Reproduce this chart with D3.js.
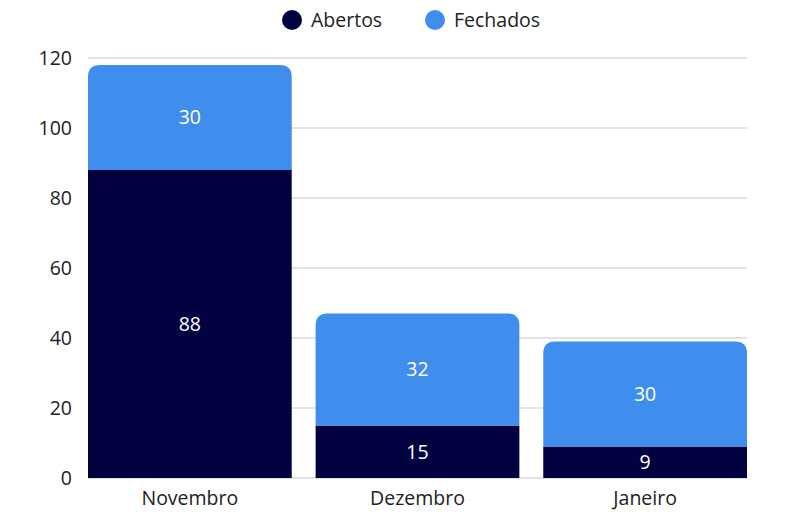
<!DOCTYPE html>
<html><head><meta charset="utf-8">
<script src="https://cdn.jsdelivr.net/npm/d3@7"></script>
<style>body{margin:0;background:#fff;}svg{display:block;font-family:"Open Sans",sans-serif;}</style>
</head><body><svg id="c" width="788" height="512"></svg>
<script>
const categories = ["Novembro","Dezembro","Janeiro"];
const abertos = [88,15,9];
const fechados = [30,32,30];
const seriesNames = ["Abertos","Fechados"];
const yTicks = [0,20,40,60,80,100,120];
const colors = ["#020240","#3f8ded"];

const svg = d3.select("#c");
const m = {l:88,r:41,t:58,b:34};
const W = 788, H = 512;
const x = d3.scaleBand().domain(categories).range([m.l, W-m.r]).paddingInner(0.105).paddingOuter(0);
const y = d3.scaleLinear().domain([0,120]).range([H-m.b, m.t]);
const fs = 19.5;

svg.append("g").selectAll("line").data(yTicks).join("line")
  .attr("x1",m.l).attr("x2",W-m.r).attr("y1",d=>y(d)).attr("y2",d=>y(d))
  .attr("stroke","#d9d9d9").attr("stroke-width",1.5);
svg.append("g").selectAll("text").data(yTicks).join("text")
  .attr("x",m.l-16).attr("y",d=>y(d)).attr("dy","0.35em").attr("text-anchor","end")
  .attr("font-size",fs).attr("fill","#222").text(d=>d);

const data = categories.map((c,i)=>({c, a:abertos[i], f:fechados[i]}));
const bw = x.bandwidth();
const r = 12;
svg.append("g").selectAll("rect").data(data).join("rect")
  .attr("x",d=>x(d.c)).attr("width",bw)
  .attr("y",d=>y(d.a)).attr("height",d=>y(0)-y(d.a)).attr("fill",colors[0]);
svg.append("g").selectAll("path").data(data).join("path")
  .attr("fill",colors[1])
  .attr("d",d=>{
    const x0=x(d.c), x1=x0+bw, yb=y(d.a), yt=y(d.a+d.f);
    return `M${x0},${yb}V${yt+r}Q${x0},${yt} ${x0+r},${yt}H${x1-r}Q${x1},${yt} ${x1},${yt+r}V${yb}Z`;
  });
svg.append("g").selectAll("text").data(data).join("text")
  .attr("x",d=>x(d.c)+bw/2).attr("y",d=>y(d.a/2)).attr("dy","0.35em")
  .attr("text-anchor","middle").attr("font-size",fs).attr("fill","#fff").text(d=>d.a);
svg.append("g").selectAll("text").data(data).join("text")
  .attr("x",d=>x(d.c)+bw/2).attr("y",d=>y(d.a+d.f/2)).attr("dy","0.35em")
  .attr("text-anchor","middle").attr("font-size",fs).attr("fill","#fff").text(d=>d.f);
svg.append("g").selectAll("text").data(categories).join("text")
  .attr("x",d=>x(d)+bw/2).attr("y",H-m.b+20).attr("dy","0.35em")
  .attr("text-anchor","middle").attr("font-size",fs).attr("fill","#222").text(d=>d);
const lg = svg.append("g");
const lx = [292,435];
seriesNames.forEach((s,i)=>{
  lg.append("circle").attr("cx",lx[i]).attr("cy",20).attr("r",10).attr("fill",colors[i]);
  lg.append("text").attr("x",lx[i]+19).attr("y",20).attr("dy","0.35em").attr("font-size",fs).attr("fill","#222").text(s);
});
</script></body></html>
